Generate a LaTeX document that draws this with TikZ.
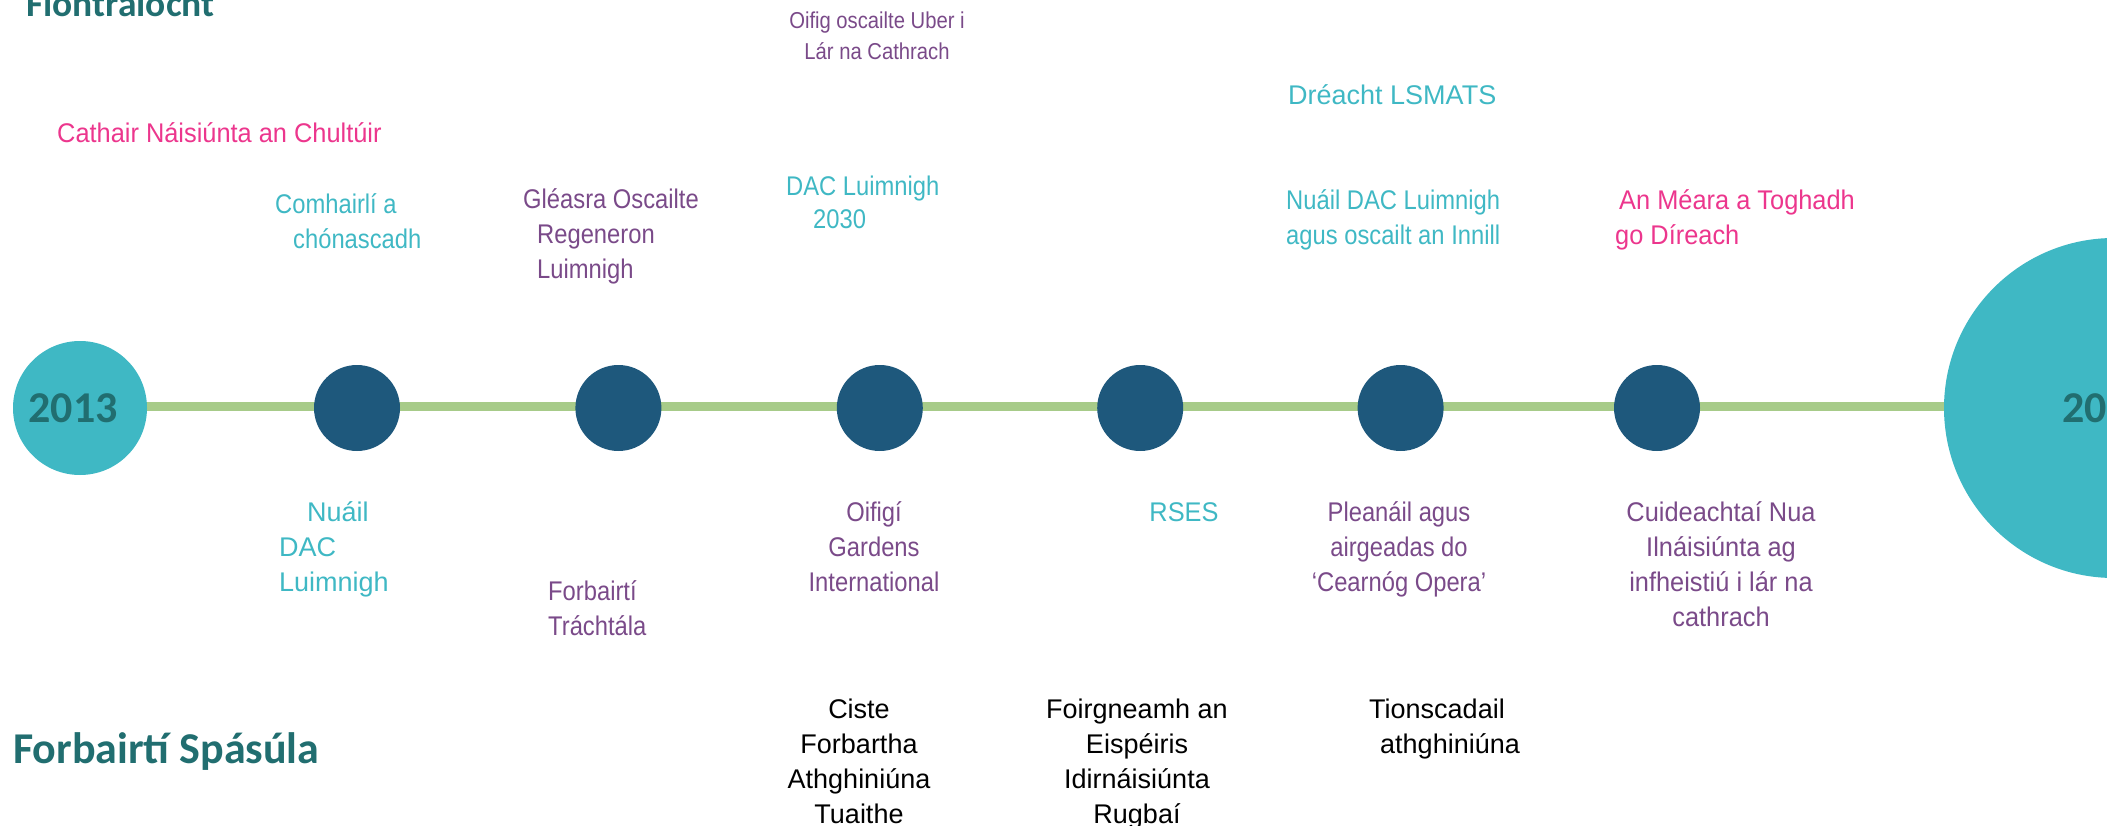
\documentclass[tikz,border=0pt]{standalone}
\usepackage{fontspec}
\setmainfont{Liberation Sans}
\newfontfamily\narrowfont{Liberation Sans}[FakeStretch=0.88]
\newfontfamily\midfont{Liberation Sans}[FakeStretch=0.94]
\newfontfamily\headfont{Carlito}
\usepackage{xcolor}
\usetikzlibrary{positioning,backgrounds}
\definecolor{tealtxt}{HTML}{3FB8C4}
\definecolor{purp}{HTML}{7A4A89}
\definecolor{pinktxt}{HTML}{EC368D}
\definecolor{dotblue}{HTML}{1E587C}
\definecolor{linegreen}{HTML}{A7CB89}
\definecolor{headteal}{HTML}{216E70}

\begin{document}
\begin{tikzpicture}[x=1pt, y=-1pt,
  dot/.style={circle, fill=dotblue, inner sep=0pt, minimum size=86pt},
  yr/.style={circle, fill=tealtxt, inner sep=0pt},
  yrtext/.style={inner sep=0pt, text=headteal, font=\headfont\bfseries\fontsize{44}{50}\selectfont},
  head/.style={yrtext, anchor=base west},
  lbl/.style={inner sep=0pt, font=\narrowfont\fontsize{27}{35}\selectfont, align=left, anchor=north west},
  wide/.style={font=\fontsize{27}{35}\selectfont},
  mid/.style={font=\midfont\fontsize{27}{35}\selectfont},
  ctr/.style={lbl, align=center, anchor=north}]
\useasboundingbox (0,0) rectangle (2107,826);
\clip (0,0) rectangle (2107,826);
\node[yr, minimum size=134pt] (c0) at (80,408) {};
\node[yr, minimum size=340pt] (c7) at (2114,408) {};
\node[dot] (d1) at (357,408) {};
\node[dot, right=175pt of d1] (d2) {};
\node[dot, right=175pt of d2] (d3) {};
\node[dot, right=174pt of d3] (d4) {};
\node[dot, right=174pt of d4] (d5) {};
\node[dot, right=170pt of d5] (d6) {};
\begin{scope}[on background layer]
  \draw[line width=9pt, linegreen] ([yshift=1.5pt]c0.center) -- ([yshift=1.5pt]c7.center);
\end{scope}
\node[yrtext] (y0) at ([xshift=-7pt]c0.center) {2013};
\node[yrtext] (y7) at ([xshift=-7pt]c7.center) {2030};
\node[head, font=\headfont\bfseries\fontsize{37.5}{45}\selectfont] (fion) at (26,17) {Fiontraíocht};
\node[head] (spas) at (13,763) {Forbairtí Spásúla};

\node[lbl, mid, anchor=base west, text=pinktxt] (cult) at (57,143) {Cathair Náisiúnta an Chultúir};
\node[lbl, text=tealtxt] (conn) at (275,193) {Comhairlí a\\\hspace*{18pt}chónascadh};
\node[lbl, text=purp] (regen) at (523,188) {Gléasra Oscailte\\\hspace*{14pt}Regeneron\\\hspace*{14pt}Luimnigh};
\node[ctr, text=purp, font=\narrowfont\fontsize{23}{31}\selectfont] (uber) at (877,12) {Oifig oscailte Uber i\\Lár na Cathrach};
\node[lbl, text=tealtxt, font=\narrowfont\fontsize{27}{33}\selectfont] (dac) at (786,176) {DAC Luimnigh\\\hspace*{27pt}2030};
\node[lbl, wide, anchor=base west, text=tealtxt] (lsmats) at (1288,105) {Dréacht LSMATS};
\node[lbl, text=tealtxt] (innill) at (1286,189) {Nuáil DAC Luimnigh\\agus oscailt an Innill};
\node[lbl, mid, text=pinktxt] (meara) at (1615,189) {\hspace*{4pt}An Méara a Toghadh\\go Díreach};

\node[lbl, wide, text=tealtxt] (nuail) at (279,501) {\hspace*{28pt}Nuáil\\DAC\\Luimnigh};
\node[lbl, text=purp] (trach) at (548,580) {Forbairtí\\Tráchtála};
\node[ctr, text=purp] (gard) at (874,501) {Oifigí\\Gardens\\International};
\node[lbl, mid, anchor=base, text=tealtxt] (rses) at (1184,521) {RSES};
\node[ctr, text=purp] (opera) at (1399,501) {Pleanáil agus\\airgeadas do\\‘Cearnóg Opera’};
\node[ctr, mid, text=purp] (cuid) at (1721,501) {Cuideachtaí Nua\\Ilnáisiúnta ag\\infheistiú i lár na\\cathrach};

\node[ctr, wide] (ciste) at (859,699) {Ciste\\Forbartha\\Athghiniúna\\Tuaithe};
\node[ctr, wide] (rugb) at (1137,699) {Foirgneamh an\\Eispéiris\\Idirnáisiúnta\\Rugbaí};
\node[lbl, wide] (tion) at (1369,699) {Tionscadail\\\hspace*{11pt}athghiniúna};
\end{tikzpicture}
\end{document}
